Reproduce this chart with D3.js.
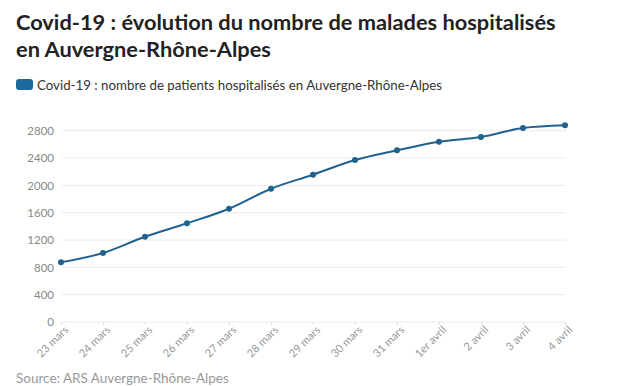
<!DOCTYPE html>
<html>
<head>
<meta charset="utf-8">
<script src="https://cdn.jsdelivr.net/npm/d3@7"></script>
<style>
  body { margin: 0; background: #fff; }
  svg { display: block; font-family: "Source Sans Pro", Lato, "Open Sans", sans-serif; }
</style>
</head>
<body>
<svg id="chart" width="619" height="386"></svg>
<script>
var days = ['23 mars', '24 mars', '25 mars', '26 mars', '27 mars', '28 mars', '29 mars',
    '30 mars', '31 mars', '1er avril', '2 avril', '3 avril', '4 avril'];
var patients = [874, 1010, 1248, 1445, 1658, 1951, 2156, 2371, 2513, 2639, 2708, 2839, 2879];
var yTicks = [0, 400, 800, 1200, 1600, 2000, 2400, 2800];

var svg = d3.select('#chart');
var lineColor = '#1f6290';
var fontFamily = '"Source Sans Pro", Lato, "Open Sans", sans-serif';

svg.append('text')
    .attr('x', 16).attr('y', 30)
    .attr('font-size', 21.8).attr('font-weight', 700).attr('fill', '#222')
    .text('Covid-19 : évolution du nombre de malades hospitalisés');
svg.append('text')
    .attr('x', 16).attr('y', 57)
    .attr('font-size', 21.8).attr('font-weight', 700).attr('fill', '#222')
    .text('en Auvergne-Rhône-Alpes');

svg.append('rect')
    .attr('x', 16).attr('y', 79).attr('width', 17).attr('height', 11)
    .attr('rx', 3).attr('fill', '#1c6a9c');
svg.append('text')
    .attr('x', 37).attr('y', 89.5)
    .attr('font-size', 13.3).attr('fill', '#333')
    .text('Covid-19 : nombre de patients hospitalisés en Auvergne-Rhône-Alpes');

var xScale = d3.scalePoint().domain(days).range([61, 565]);
var yScale = d3.scaleLinear().domain([0, 2800]).range([322, 130.7]);

// grille horizontale
svg.append('g')
    .selectAll('line')
    .data(yTicks)
    .enter()
    .append('line')
    .attr('x1', 62).attr('x2', 566)
    .attr('y1', function (d) { return yScale(d); })
    .attr('y2', function (d) { return yScale(d); })
    .attr('stroke', '#ececec').attr('stroke-width', 1);

var yAxis = d3.axisLeft(yScale).tickValues(yTicks).tickSize(0).tickPadding(4)
    .tickFormat(d3.format('d'));
svg.append('g')
    .attr('transform', 'translate(58, 0)')
    .call(yAxis)
    .call(function (g) { g.select('.domain').remove(); })
    .selectAll('text')
    .attr('font-size', 11.5).attr('fill', '#888')
    .attr('font-family', fontFamily);

var xAxis = d3.axisBottom(xScale).tickSize(3).tickPadding(2);
var gx = svg.append('g')
    .attr('transform', 'translate(0, 322)')
    .call(xAxis);
gx.select('.domain').remove();
gx.selectAll('.tick line').attr('stroke', '#ddd');
gx.selectAll('text')
    .attr('font-size', 11).attr('fill', '#999')
    .attr('font-family', fontFamily)
    .attr('text-anchor', 'end')
    .attr('dy', 0)
    .attr('transform', 'translate(4, 5) rotate(-45)');

var line = d3.line()
    .x(function (d, i) { return xScale(days[i]); })
    .y(function (d) { return yScale(d); })
    .curve(d3.curveMonotoneX);
svg.append('path')
    .attr('d', line(patients))
    .attr('fill', 'none')
    .attr('stroke', lineColor)
    .attr('stroke-width', 2);
svg.append('g')
    .selectAll('circle')
    .data(patients)
    .enter()
    .append('circle')
    .attr('cx', function (d, i) { return xScale(days[i]); })
    .attr('cy', function (d) { return yScale(d); })
    .attr('r', 3)
    .attr('fill', lineColor);

svg.append('text')
    .attr('x', 16).attr('y', 383)
    .attr('font-size', 13.5).attr('fill', '#999')
    .text('Source: ARS Auvergne-Rhône-Alpes');
</script>
</body>
</html>
